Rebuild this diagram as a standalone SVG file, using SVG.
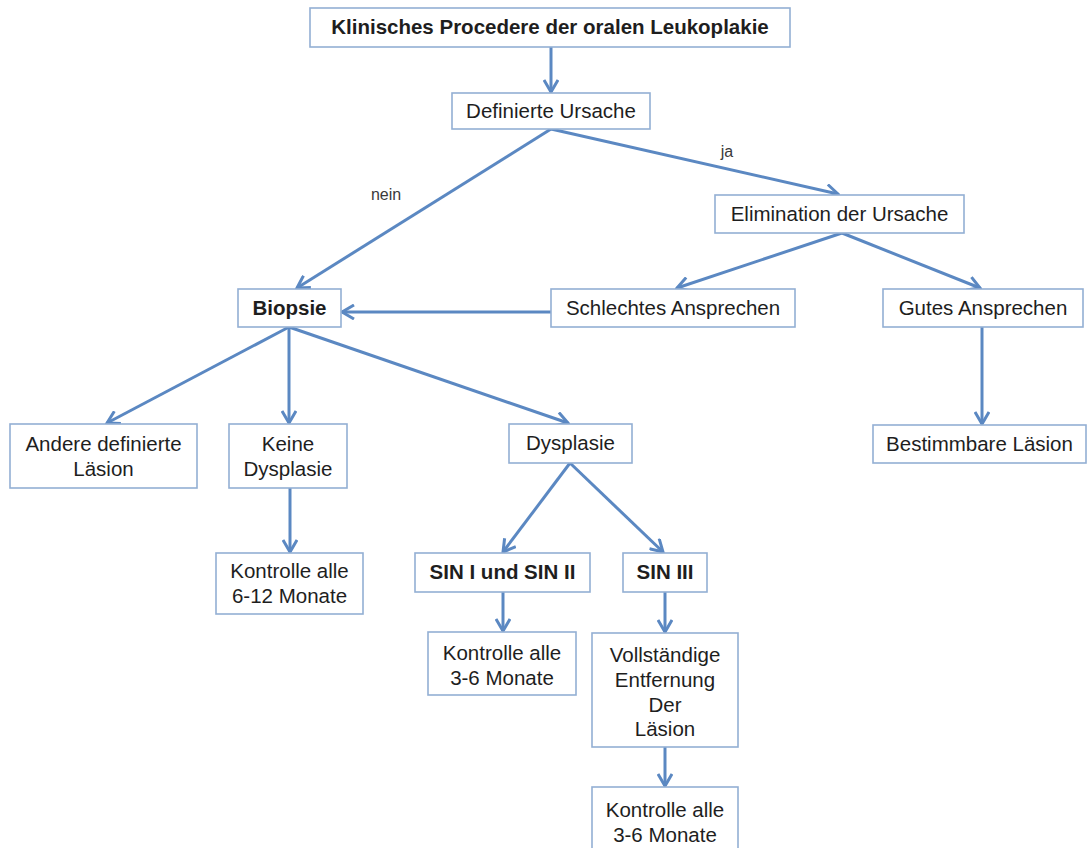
<svg xmlns="http://www.w3.org/2000/svg" width="1088" height="848" viewBox="0 0 1088 848">
<defs>
<style>
.box{fill:#ffffff;stroke:#93afd4;stroke-width:1.6}
.t{font-family:"Liberation Sans",Arial,sans-serif;font-size:20.5px;fill:#1e1e1e;text-anchor:middle}
.b{font-weight:bold}
.lbl{font-family:"Liberation Sans",Arial,sans-serif;font-size:16px;fill:#3a3a3a;text-anchor:middle}
.c{stroke:#5b88c2;stroke-width:3;fill:none;marker-end:url(#arr)}
</style>
<marker id="arr" viewBox="0 0 16 16" refX="14" refY="8" markerWidth="16" markerHeight="16" markerUnits="userSpaceOnUse" orient="auto">
<path d="M2,1 L14,8 L2,15" fill="none" stroke="#5b88c2" stroke-width="3"/>
</marker>
</defs>
<rect width="1088" height="848" fill="#ffffff"/>
<g id="connectors">
<line class="c" x1="551" y1="47" x2="551" y2="92"/>
<line class="c" x1="551" y1="129" x2="297" y2="288"/>
<line class="c" x1="551" y1="129" x2="838" y2="194"/>
<line class="c" x1="842" y1="233" x2="677" y2="288"/>
<line class="c" x1="842" y1="233" x2="980" y2="288"/>
<line class="c" x1="551" y1="312" x2="342" y2="312"/>
<line class="c" x1="982" y1="327" x2="982" y2="424"/>
<line class="c" x1="289" y1="327" x2="107" y2="423"/>
<line class="c" x1="289" y1="327" x2="289" y2="423"/>
<line class="c" x1="289" y1="327" x2="568" y2="423"/>
<line class="c" x1="290" y1="488" x2="290" y2="552"/>
<line class="c" x1="570" y1="463" x2="503" y2="552"/>
<line class="c" x1="570" y1="463" x2="663" y2="552"/>
<line class="c" x1="503" y1="592" x2="503" y2="631"/>
<line class="c" x1="665" y1="592" x2="665" y2="632"/>
<line class="c" x1="665" y1="747" x2="665" y2="786"/>
<text class="lbl" x="386" y="200">nein</text>
<text class="lbl" x="727" y="157">ja</text>
</g>
<g id="title"><rect class="box" x="310" y="8" width="480" height="39"/><text class="t b" x="550" y="34">Klinisches Procedere der oralen Leukoplakie</text></g>
<g id="definierte"><rect class="box" x="452" y="93" width="198" height="36"/><text class="t" x="551" y="118">Definierte Ursache</text></g>
<g id="elimination"><rect class="box" x="715" y="195" width="249" height="38"/><text class="t" x="839.5" y="221">Elimination der Ursache</text></g>
<g id="schlechtes"><rect class="box" x="551" y="289" width="244" height="38"/><text class="t" x="673" y="315">Schlechtes Ansprechen</text></g>
<g id="gutes"><rect class="box" x="883" y="289" width="200" height="38"/><text class="t" x="983" y="315">Gutes Ansprechen</text></g>
<g id="biopsie"><rect class="box" x="238" y="289" width="103" height="38"/><text class="t b" x="289.5" y="315">Biopsie</text></g>
<g id="andere"><rect class="box" x="10" y="424" width="187" height="64"/><text class="t" x="103.5" y="451">Andere definierte</text><text class="t" x="103.5" y="476">Läsion</text></g>
<g id="keine"><rect class="box" x="229" y="424" width="118" height="64"/><text class="t" x="288" y="451">Keine</text><text class="t" x="288" y="476">Dysplasie</text></g>
<g id="dysplasie"><rect class="box" x="509" y="424" width="123" height="39"/><text class="t" x="570.5" y="450">Dysplasie</text></g>
<g id="bestimmbare"><rect class="box" x="873" y="425" width="213" height="38"/><text class="t" x="979.5" y="451">Bestimmbare Läsion</text></g>
<g id="kontrolle612"><rect class="box" x="216" y="553" width="147" height="61"/><text class="t" x="289.5" y="578">Kontrolle alle</text><text class="t" x="289.5" y="603">6-12 Monate</text></g>
<g id="sin12"><rect class="box" x="415" y="553" width="175" height="39"/><text class="t b" x="502.5" y="579">SIN I und SIN II</text></g>
<g id="sin3"><rect class="box" x="623" y="553" width="84" height="39"/><text class="t b" x="665" y="579">SIN III</text></g>
<g id="kontrolle36a"><rect class="box" x="428" y="632" width="148" height="63"/><text class="t" x="502" y="660">Kontrolle alle</text><text class="t" x="502" y="685">3-6 Monate</text></g>
<g id="entfernung"><rect class="box" x="592" y="633" width="146" height="114"/><text class="t" x="665" y="662">Vollständige</text><text class="t" x="665" y="687">Entfernung</text><text class="t" x="665" y="712">Der</text><text class="t" x="665" y="736">Läsion</text></g>
<g id="kontrolle36b"><rect class="box" x="592" y="787" width="146" height="75"/><text class="t" x="665" y="817">Kontrolle alle</text><text class="t" x="665" y="842">3-6 Monate</text></g>
</svg>
